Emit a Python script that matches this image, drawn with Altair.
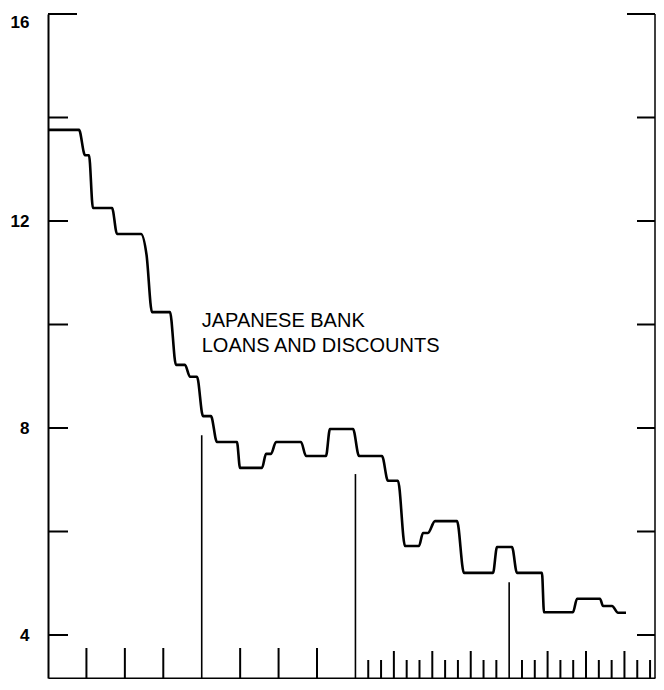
import altair as alt
import pandas as pd

# months from start of series, and rate values (percent)
MONTHS = [0, 2.42, 2.89, 3.20, 3.51, 5.00, 5.39, 7.26, 7.69, 8.12, 9.52, 9.99, 10.69,
          11.09, 11.63, 12.10, 12.72, 13.19, 14.75, 14.99, 16.71, 17.02, 17.41, 17.80,
          19.75, 20.14, 21.70, 22.01, 23.81, 24.28, 26.07, 26.54, 27.32, 27.87, 28.96,
          29.27, 29.66, 30.21, 31.93, 32.47, 34.74, 35.05, 36.22, 36.61, 38.56, 38.72,
          40.98, 41.30, 43.09, 43.33, 44.03, 44.50, 45.12]
RATES = [13.76, 13.76, 13.27, 13.27, 12.25, 12.25, 11.75, 11.75, 11.35, 10.24, 10.24,
         9.22, 9.22, 8.99, 8.99, 8.23, 8.23, 7.73, 7.73, 7.23, 7.23, 7.5, 7.5, 7.73,
         7.73, 7.46, 7.46, 7.98, 7.98, 7.46, 7.46, 6.98, 6.98, 5.72, 5.72, 5.97, 5.97,
         6.2, 6.2, 5.2, 5.2, 5.7, 5.7, 5.2, 5.2, 4.44, 4.44, 4.7, 4.7, 4.56, 4.56,
         4.43, 4.43]

Y_LABELS = [4, 8, 12, 16]
Y_TICKS = [4, 6, 8, 10, 12, 14]
Y_TOP = [16]
QUARTER_TICKS = [3, 6, 9, 15, 18, 21]
MONTH_TICKS = [25, 26, 28, 29, 31, 32, 34, 35, 37, 38, 40, 41, 43, 44, 46, 47]
MONTH_QTR_TICKS = [27, 30, 33, 39, 42, 45]
YEAR_LINES = [12, 24, 36]
YEAR_LINE_TOPS = [7.86, 7.11, 5.02]
LABEL_LINES = ["JAPANESE BANK", "LOANS AND DISCOUNTS"]
LABEL_X = [12.0, 12.0]
LABEL_Y = [10.06, 9.575]

W, H = 607, 664
X_MAX = W / 12.81          # keep the reference's month spacing; page is narrower
Y_MIN = 16 - H / 51.75     # keep the reference's unit spacing
X_END = [X_MAX]

xs = alt.Scale(domain=[0, X_MAX], nice=False, zero=False)
ys = alt.Scale(domain=[Y_MIN, 16], nice=False, zero=False)

series = pd.DataFrame({"m": MONTHS, "v": RATES})

line = alt.Chart(series).mark_line(
    color="black", strokeWidth=2.6, interpolate="monotone", strokeJoin="round"
).encode(
    x=alt.X("m:Q", scale=xs, axis=alt.Axis(labels=False, ticks=False, domain=True,
                                           domainColor="black", domainWidth=2,
                                           title=None, grid=False)),
    y=alt.Y("v:Q", scale=ys, axis=alt.Axis(values=Y_LABELS, ticks=False, domain=True,
                                           domainColor="black", domainWidth=2,
                                           labelPadding=19, labelFontSize=17,
                                           labelFont="Liberation Sans",
                                           labelFontWeight="bold", labelColor="black",
                                           labelFlush=True, title=None, grid=False)),
)

ytick_df = pd.DataFrame({"v": Y_TICKS})
ytop_df = pd.DataFrame({"v": Y_TOP})

left_ticks = alt.Chart(ytick_df).mark_rule(color="black", strokeWidth=2).encode(
    y=alt.Y("v:Q", scale=ys), x=alt.value(0), x2=alt.value(20))
left_top = alt.Chart(ytop_df).mark_rule(color="black", strokeWidth=2).encode(
    y=alt.Y("v:Q", scale=ys), x=alt.value(0), x2=alt.value(29))
right_ticks = alt.Chart(ytick_df).mark_rule(color="black", strokeWidth=2).encode(
    y=alt.Y("v:Q", scale=ys), x=alt.value(W - 18), x2=alt.value(W))
right_top = alt.Chart(ytop_df).mark_rule(color="black", strokeWidth=2).encode(
    y=alt.Y("v:Q", scale=ys), x=alt.value(W - 28), x2=alt.value(W))

right_axis = alt.Chart(pd.DataFrame({"m": X_END})).mark_rule(
    color="black", strokeWidth=1.5).encode(
    x=alt.X("m:Q", scale=xs), y=alt.datum(Y_MIN, scale=ys), y2=alt.datum(16))

q_ticks = alt.Chart(pd.DataFrame({"m": QUARTER_TICKS})).mark_rule(
    color="black", strokeWidth=2).encode(
    x=alt.X("m:Q", scale=xs), y=alt.value(H), y2=alt.value(H - 30))
m_ticks = alt.Chart(pd.DataFrame({"m": MONTH_TICKS})).mark_rule(
    color="black", strokeWidth=2).encode(
    x=alt.X("m:Q", scale=xs), y=alt.value(H), y2=alt.value(H - 18))
mq_ticks = alt.Chart(pd.DataFrame({"m": MONTH_QTR_TICKS})).mark_rule(
    color="black", strokeWidth=2).encode(
    x=alt.X("m:Q", scale=xs), y=alt.value(H), y2=alt.value(H - 27))

year_lines = alt.Chart(pd.DataFrame({"m": YEAR_LINES, "top": YEAR_LINE_TOPS})).mark_rule(
    color="black", strokeWidth=1.6).encode(
    x=alt.X("m:Q", scale=xs), y=alt.Y("top:Q", scale=ys), y2=alt.datum(Y_MIN))

label = alt.Chart(pd.DataFrame({"t": LABEL_LINES, "m": LABEL_X, "v": LABEL_Y})).mark_text(
    align="left", baseline="middle", fontSize=20, font="Liberation Sans",
    color="black").encode(
    x=alt.X("m:Q", scale=xs), y=alt.Y("v:Q", scale=ys), text="t:N")

chart = alt.layer(
    line, left_ticks, left_top, right_ticks, right_top, right_axis,
    q_ticks, m_ticks, mq_ticks, year_lines, label
).properties(
    width=W, height=H,
    autosize=alt.AutoSizeParams(type="none"),
    padding={"left": 40, "top": 6, "right": 1, "bottom": 1},
    background="white",
).configure_view(stroke=None).configure_axis(grid=False)

chart.save("out.html", embed_options={"renderer": "svg", "actions": False})
